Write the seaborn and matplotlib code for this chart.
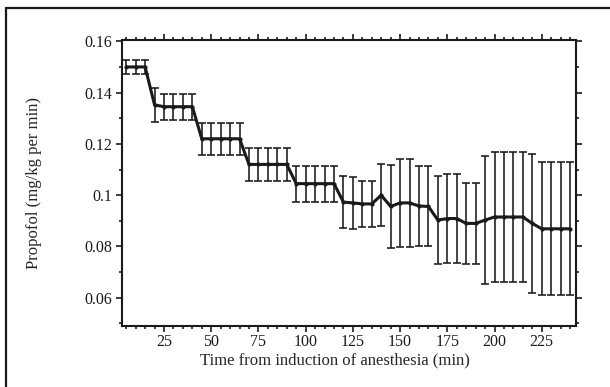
import numpy as np
import pandas as pd
import seaborn as sns
from matplotlib import pyplot as plt
from matplotlib.lines import Line2D
from matplotlib.ticker import MultipleLocator, FuncFormatter

sns.set_style('ticks')
plt.rcParams['font.family'] = ['Liberation Serif', 'DejaVu Serif']

# time after induction (min)
minutes = [5, 10, 15, 20, 25, 30, 35, 40, 45, 50, 55, 60, 65, 70, 75, 80,
           85, 90, 95, 100, 105, 110, 115, 120, 125, 130, 135, 140, 145, 150,
           155, 160, 165, 170, 175, 180, 185, 190, 195, 200, 205, 210, 215,
           220, 225, 230, 235, 240]

# propofol infusion rate, mean
rate = [0.150, 0.150, 0.150,
        0.1352, 0.1345, 0.1345, 0.1345, 0.1345,
        0.122, 0.122, 0.122, 0.122, 0.122,
        0.112, 0.112, 0.112, 0.112, 0.112,
        0.1045, 0.1045, 0.1045, 0.1045, 0.1045,
        0.0973, 0.0970, 0.0966, 0.0966, 0.1000, 0.0956, 0.0970, 0.0970,
        0.0958, 0.0956,
        0.0903, 0.0909, 0.0909, 0.0890, 0.0890, 0.0903, 0.0915, 0.0915,
        0.0915, 0.0915, 0.0890, 0.0869, 0.0869, 0.0869, 0.0869]

# error bar half-width
rate_err = [0.0027, 0.0027, 0.0027,
            0.0066, 0.0051, 0.0051, 0.0051, 0.0051,
            0.0062, 0.0062, 0.0062, 0.0062, 0.0062,
            0.0065, 0.0065, 0.0065, 0.0065, 0.0065,
            0.0070, 0.0070, 0.0070, 0.0070, 0.0070,
            0.0102, 0.0100, 0.0090, 0.0090, 0.0120, 0.0163, 0.0173, 0.0173,
            0.0156, 0.0156,
            0.0170, 0.0172, 0.0172, 0.0157, 0.0157, 0.0250, 0.0252, 0.0252,
            0.0252, 0.0252, 0.0270, 0.0260, 0.0260, 0.0260, 0.0260]

df = pd.DataFrame({'Time': minutes, 'Propofol': rate, 'err': rate_err})

fig = plt.figure(figsize=(6.1, 3.87), dpi=100)
ax = fig.add_axes([0.1995, 0.1576, 0.7443, 0.739])

ax.errorbar(df['Time'], df['Propofol'], yerr=df['err'], fmt='none',
            ecolor='#1a1a1a', elinewidth=1.15, capsize=2.6, capthick=1.15)
sns.lineplot(ax=ax, x='Time', y='Propofol', data=df, color='#1a1a1a',
             linewidth=2.2, marker='o', markersize=3, markeredgewidth=0)

ax.set_xlim(2.6, 243)
ax.set_ylim(0.049, 0.1605)
ax.xaxis.set_major_locator(MultipleLocator(25))
ax.xaxis.set_minor_locator(MultipleLocator(5))
ax.yaxis.set_major_locator(MultipleLocator(0.02))
ax.yaxis.set_minor_locator(MultipleLocator(0.01))
ax.yaxis.set_major_formatter(FuncFormatter(lambda v, p: f'{v:g}'))
ax.set_xticks([25, 50, 75, 100, 125, 150, 175, 200, 225])

ax.tick_params(which='both', direction='out', top=True, right=True,
               colors='#1a1a1a', labelsize=11.5, width=1.2)
ax.tick_params(which='major', length=4, pad=3)
ax.tick_params(axis='x', which='major', pad=1.5)
ax.tick_params(which='minor', length=2.2)
for s in ax.spines.values():
    s.set_linewidth(1.5)
    s.set_color('#1a1a1a')

ax.set_xlabel('Time from induction of anesthesia (min)', size=12)
ax.xaxis.set_label_coords(0.47, -0.092)
ax.set_ylabel('Propofol (mg/kg per min)', size=12, labelpad=30)

# page frame (top and left edges only)
fig.add_artist(Line2D([6 / 610, 6 / 610], [0, 1 - 8 / 387],
                      transform=fig.transFigure, color='#1a1a1a', lw=1.6))
fig.add_artist(Line2D([6 / 610, 1], [1 - 8 / 387, 1 - 8 / 387],
                      transform=fig.transFigure, color='#1a1a1a', lw=1.6))

plt.savefig('out.png', dpi=100)
